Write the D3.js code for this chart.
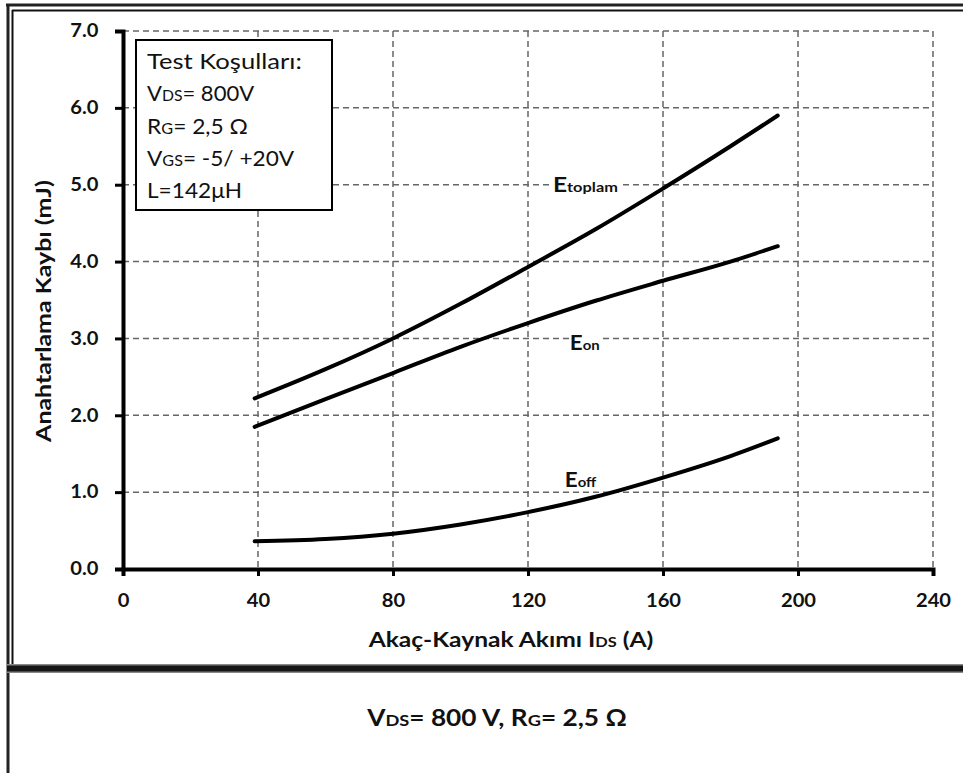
<!DOCTYPE html>
<html>
<head>
<meta charset="utf-8">
<script src="https://cdn.jsdelivr.net/npm/d3@7"></script>
<style>
  html, body { margin: 0; padding: 0; background: #fff; }
  svg { display: block; }
  text { font-family: Lato, "Open Sans", sans-serif; fill: #111; }
</style>
</head>
<body>
<svg id="chart" width="963" height="773"></svg>
<script>
// ---- data ----
const currentA = [39, 60, 80, 100, 120, 140, 160, 180, 194];
const eToplam  = [2.22, 2.60, 3.00, 3.45, 3.93, 4.42, 4.95, 5.50, 5.90];
const eOn      = [1.85, 2.21, 2.55, 2.89, 3.20, 3.49, 3.75, 4.00, 4.20];
const eOff     = [0.36, 0.39, 0.46, 0.58, 0.74, 0.94, 1.19, 1.47, 1.70];
const xTicks = [0, 40, 80, 120, 160, 200, 240];
const yTicks = [0, 1, 2, 3, 4, 5, 6, 7];
const xTitle = ["Akaç-Kaynak Akımı I", "DS", " (A)"];
const yTitle = ["Anahtarlama Kaybı (mJ)"];
const legendLines = [["Test Koşulları:"], ["V", "DS", "= 800V"], ["R", "G", "= 2,5 Ω"], ["V", "GS", "= -5/ +20V"], ["L=142μH"]];
const caption = ["V", "DS", "= 800 V, R", "G", "= 2,5 Ω"];

const svg = d3.select("#chart");

// helper: text made of alternating normal / small parts, horizontally fitted to a width
function fitText(parent, o) {
  const g = parent.append("g");
  const t = g.append("text").attr("x", 0).attr("y", 0)
    .attr("text-anchor", o.anchor || "start")
    .attr("font-weight", o.weight || "normal").attr("font-size", o.size);
  o.parts.forEach((p, i) => {
    t.append("tspan").attr("font-size", i % 2 ? o.small : o.size).text(p);
  });
  const w = t.node().getBBox().width;
  const s = o.width ? o.width / w : 1;
  g.attr("transform", `translate(${o.x},${o.y})${o.rotate ? ` rotate(${o.rotate})` : ""} scale(${s},1)`);
  return { g, t };
}

// ---- frame ----
const frame = svg.append("g");
frame.append("line").attr("x1", 6).attr("x2", 963).attr("y1", 5).attr("y2", 5).attr("stroke", "#222").attr("stroke-width", 3);
frame.append("line").attr("x1", 8).attr("x2", 8).attr("y1", 4).attr("y2", 773).attr("stroke", "#222").attr("stroke-width", 3);
frame.append("line").attr("x1", 12).attr("x2", 963).attr("y1", 10.5).attr("y2", 10.5).attr("stroke", "#111").attr("stroke-width", 2);
frame.append("line").attr("x1", 12.5).attr("x2", 12.5).attr("y1", 10).attr("y2", 668).attr("stroke", "#111").attr("stroke-width", 2);
frame.append("line").attr("x1", 7).attr("x2", 963).attr("y1", 668.5).attr("y2", 668.5).attr("stroke", "#888").attr("stroke-width", 9);
frame.append("line").attr("x1", 7).attr("x2", 963).attr("y1", 668.5).attr("y2", 668.5).attr("stroke", "#151515").attr("stroke-width", 6);

// ---- scales ----
const x = d3.scaleLinear().domain([0, 240]).range([123, 933]);
const y = d3.scaleLinear().domain([0, 7]).range([569, 31]);

// ---- grid ----
const grid = svg.append("g").attr("stroke", "#666").attr("stroke-width", 1.5).attr("stroke-dasharray", "6,4");
grid.selectAll("line.h").data(yTicks.filter(d => d > 0)).join("line")
  .attr("class", "h")
  .attr("x1", x(0)).attr("x2", x(240)).attr("y1", d => y(d)).attr("y2", d => y(d));
grid.selectAll("line.v").data(xTicks.filter(d => d > 0)).join("line")
  .attr("class", "v")
  .attr("x1", d => x(d)).attr("x2", d => x(d)).attr("y1", y(7)).attr("y2", y(0));

// ---- axes ----
const xAxis = svg.append("g").attr("transform", `translate(0,${y(0)})`)
  .call(d3.axisBottom(x).tickValues(xTicks).tickFormat(d3.format("d")).tickSize(7).tickPadding(18));
const yAxis = svg.append("g").attr("transform", `translate(${x(0)},0)`)
  .call(d3.axisLeft(y).tickValues(yTicks).tickFormat(d3.format(".1f")).tickSize(8).tickPadding(14));
[xAxis, yAxis].forEach(a => {
  a.attr("font-family", null);
  a.select(".domain").attr("stroke", "#000").attr("stroke-width", 4);
  a.selectAll(".tick line").attr("stroke", "#000").attr("stroke-width", 3);
  a.selectAll(".tick text").attr("font-family", "Lato, sans-serif").attr("font-weight", "bold")
    .attr("font-size", 18).attr("fill", "#1a1a1a").attr("transform", "scale(1.12,1)");
});

// ---- curves ----
const line = d3.line().x(d => x(d[0])).y(d => y(d[1])).curve(d3.curveMonotoneX);
[eToplam, eOn, eOff].forEach(s => {
  svg.append("path").datum(currentA.map((c, i) => [c, s[i]]))
    .attr("d", line).attr("fill", "none").attr("stroke", "#000").attr("stroke-width", 4).attr("stroke-linecap", "round");
});

// ---- curve labels ----
function curveLabel(px, py, sub, w, bg) {
  const { g, t } = fitText(svg, { x: px, y: py, parts: ["E", sub], size: 21, small: 14, weight: "bold", width: w });
  if (bg) {
    const b = t.node().getBBox();
    g.insert("rect", "text").attr("x", b.x).attr("y", b.y + 3).attr("width", b.width + 1).attr("height", b.height - 6).attr("fill", "#fff");
  }
}
curveLabel(x(127.4), 192, "toplam", 65, true);
curveLabel(x(132.4), 350, "on", 30, true);
curveLabel(x(130.9), 487, "off", 32, false);

// ---- legend ----
const lg = svg.append("g");
lg.append("rect").attr("x", 136).attr("y", 40).attr("width", 196).attr("height", 170)
  .attr("fill", "#fff").attr("stroke", "#000").attr("stroke-width", 2);
const legendW = [155, 108, 101, 148, 95];
legendLines.forEach((parts, i) => {
  fitText(lg, { x: 147, y: 69 + i * 32.3, parts, size: 21, small: 15, width: legendW[i] });
});

// ---- axis titles ----
fitText(svg, { x: 511, y: 647, parts: xTitle, size: 21, small: 14, weight: "bold", anchor: "middle", width: 286 });
fitText(svg, { x: 51, y: 311, parts: yTitle, size: 21, small: 14, weight: "bold", anchor: "middle", width: 263, rotate: -90 });

// ---- caption ----
fitText(svg, { x: 497, y: 726, parts: caption, size: 23, small: 16, weight: "bold", anchor: "middle", width: 261 });
</script>
</body>
</html>
